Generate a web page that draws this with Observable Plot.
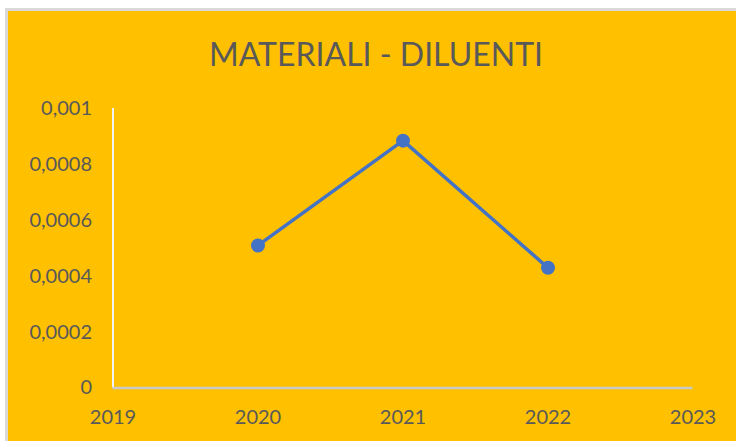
<!DOCTYPE html>
<html>
<head>
<meta charset="utf-8">
<script src="https://cdn.jsdelivr.net/npm/d3@7"></script>
<script src="https://cdn.jsdelivr.net/npm/@observablehq/plot@0.6"></script>
<style>
  html, body { margin: 0; padding: 0; background: #ffffff; width: 736px; height: 441px; overflow: hidden; }
  #frame { position: absolute; left: 5px; top: 8px; width: 731px; height: 433px; box-sizing: border-box;
           background: #FFC000; border-left: 3px solid #d9d9d9; border-top: 3px solid #d9d9d9; }
  #title { position: absolute; left: 0; top: 36px; width: 752px; text-align: center;
           font-family: Lato, "Open Sans", sans-serif; font-size: 32px; color: #595959; line-height: 36px; }
  #chart { position: absolute; left: 0; top: 0; }
</style>
</head>
<body>
<div id="frame"></div>
<div id="title">MATERIALI - DILUENTI</div>
<div id="chart"></div>
<script>
const years = [2020, 2021, 2022];
const values = [0.00051, 0.000885, 0.00043];
const xTicks = [2019, 2020, 2021, 2022, 2023];
const yTicks = [0, 0.0002, 0.0004, 0.0006, 0.0008, 0.001];

const data = years.map((y, i) => ({year: y, value: values[i]}));
const fmt = d => d === 0 ? "0" : String(+d.toFixed(4)).replace(".", ",");

const chart = Plot.plot({
  width: 736,
  height: 441,
  marginLeft: 112.5,
  marginRight: 43.5,
  marginTop: 108,
  marginBottom: 53.5,
  style: {background: "transparent", fontFamily: "Lato, 'Open Sans', sans-serif", fontSize: "20px", color: "#595959"},
  x: {domain: [2019, 2023], ticks: xTicks, tickFormat: d => String(d), label: null},
  y: {domain: [0, 0.001], ticks: yTicks, tickFormat: fmt, label: null},
  marks: [
    Plot.axisX({ticks: xTicks, tickFormat: d => String(d), tickSize: 0, tickPadding: 22, label: null, fill: "#595959"}),
    Plot.axisY({ticks: yTicks, tickFormat: fmt, tickSize: 0, tickPadding: 21, label: null, fill: "#595959"}),
    Plot.ruleX([2019], {stroke: "#f2f2f2", strokeWidth: 2}),
    Plot.ruleY([0], {stroke: "#c9c9c9", strokeWidth: 2.5}),
    Plot.line(data, {x: "year", y: "value", stroke: "#4472C4", strokeWidth: 3.5}),
    Plot.dot(data, {x: "year", y: "value", r: 7, fill: "#4472C4"})
  ]
});
document.getElementById("chart").appendChild(chart);
</script>
</body>
</html>
